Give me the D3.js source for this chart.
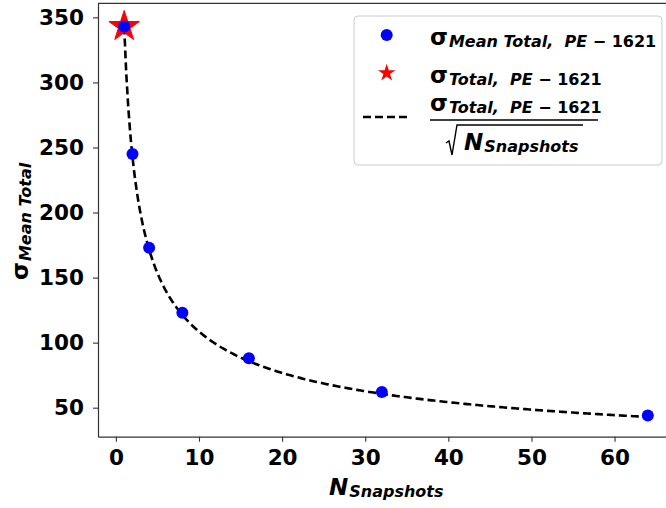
<!DOCTYPE html>
<html>
<head>
<meta charset="utf-8">
<style>
  body { margin: 0; background: #fff; }
  svg { display: block; font-family: "DejaVu Sans", sans-serif; font-weight: bold; }
  svg text { white-space: pre; }
</style>
</head>
<body>
<div id="chart"></div>
<script src="https://cdnjs.cloudflare.com/ajax/libs/d3/7.8.5/d3.min.js"></script>
<script>
'use strict';

// snapshots and measured sigma of the mean
var nSnapshots = [1, 2, 4, 8, 16, 32, 64];
var sigmaMean = [343, 245, 173, 123, 88, 62, 44];
var sigmaTotal = 343;
var xTicks = [0, 10, 20, 30, 40, 50, 60];
var yTicks = [50, 100, 150, 200, 250, 300, 350];

var W = 666, H = 508;
var plot = { left: 98, top: 3.3, right: 674, bottom: 436.7 };

var svg = d3.select('#chart').append('svg')
  .attr('width', W).attr('height', H);

var x = d3.scaleLinear().domain([-2.15, 67.15]).range([plot.left, plot.right]);
var y = d3.scaleLinear().domain([27.7, 360.8]).range([plot.bottom, plot.top]);

// axes
svg.append('g')
  .attr('transform', 'translate(0,' + plot.bottom + ')')
  .call(d3.axisBottom(x).tickValues(xTicks).tickSize(5).tickPadding(8).tickSizeOuter(0));
svg.append('g')
  .attr('transform', 'translate(' + plot.left + ',0)')
  .call(d3.axisLeft(y).tickValues(yTicks).tickSize(5).tickPadding(9).tickSizeOuter(0));

svg.selectAll('.tick text')
  .attr('font-family', 'DejaVu Sans').attr('font-weight', 'bold')
  .attr('font-size', 21.5).attr('fill', '#000');
svg.selectAll('.tick line').attr('stroke', '#333').attr('stroke-width', 1.1);
svg.selectAll('.domain').attr('stroke', '#333').attr('stroke-width', 1.2);

// top spine
svg.append('line')
  .attr('x1', plot.left).attr('x2', plot.right)
  .attr('y1', plot.top).attr('y2', plot.top)
  .attr('stroke', '#333').attr('stroke-width', 1.2);

// theoretical curve sigma_total / sqrt(N)
var curveN = d3.range(1, 64.001, 0.25);
var line = d3.line()
  .x(function(d) { return x(d); })
  .y(function(d) { return y(sigmaTotal / Math.sqrt(d)); });

svg.append('path')
  .datum(curveN)
  .attr('d', line)
  .attr('fill', 'none')
  .attr('stroke', '#000')
  .attr('stroke-width', 2.6)
  .attr('stroke-dasharray', '8,4');

// star for total sigma
var star = d3.symbol().type(d3.symbolStar);
svg.append('path')
  .attr('d', star.size(290)())
  .attr('transform', 'translate(' + x(1) + ',' + y(sigmaTotal) + ')')
  .attr('fill', 'red').attr('stroke', 'red').attr('stroke-width', 1);

svg.selectAll('circle.pt')
  .data(nSnapshots)
  .enter().append('circle')
  .attr('class', 'pt')
  .attr('cx', function(d) { return x(d); })
  .attr('cy', function(d, i) { return y(sigmaMean[i]); })
  .attr('r', 6)
  .attr('fill', 'blue');

// helper: big symbol with an italic subscript, optional upright tail
function mathLabel(g, base, sub, tail, baseSize, subSize, dy) {
  var t = g.append('text').attr('fill', '#000');
  t.append('tspan').attr('font-size', baseSize).text(base);
  t.append('tspan').attr('font-size', subSize).attr('font-style', 'italic')
    .attr('dx', 1).attr('dy', dy).text(sub);
  if (tail) t.append('tspan').attr('font-size', subSize).text(tail);
  return t;
}

// axis labels
var xl = svg.append('g').attr('transform', 'translate(329,495)');
mathLabel(xl, 'N', 'Snapshots', null, 23, 16, 2).select('tspan').attr('font-style', 'italic');

var yl = svg.append('g').attr('transform', 'translate(28,280) rotate(-90)');
mathLabel(yl, 'σ', 'Mean Total', null, 23, 16, 3);

// legend
var lg = svg.append('g');
lg.append('rect')
  .attr('x', 354).attr('y', 16).attr('width', 308).attr('height', 149)
  .attr('rx', 4)
  .attr('fill', '#fff').attr('fill-opacity', 0.8)
  .attr('stroke', '#ccc').attr('stroke-width', 1);

lg.append('circle').attr('cx', 386.7).attr('cy', 35).attr('r', 6).attr('fill', 'blue');
lg.append('path')
  .attr('d', star.size(95)())
  .attr('transform', 'translate(386.7,73)')
  .attr('fill', 'red');
lg.append('line')
  .attr('x1', 363).attr('x2', 410).attr('y1', 117).attr('y2', 117)
  .attr('stroke', '#000').attr('stroke-width', 2.6).attr('stroke-dasharray', '8,4');

mathLabel(lg.append('g').attr('transform', 'translate(430,45)'),
  'σ', 'Mean Total,  PE', ' − 1621', 23, 16, 2);
mathLabel(lg.append('g').attr('transform', 'translate(430,83)'),
  'σ', 'Total,  PE', ' − 1621', 23, 16, 2);
mathLabel(lg.append('g').attr('transform', 'translate(430,111)'),
  'σ', 'Total,  PE', ' − 1621', 23, 16, 2);
lg.append('line')
  .attr('x1', 430).attr('x2', 598).attr('y1', 120).attr('y2', 120)
  .attr('stroke', '#000').attr('stroke-width', 1.4);
lg.append('path')
  .attr('d', 'M446,143 L449,141 L452,155 L457,125 L583,125')
  .attr('fill', 'none').attr('stroke', '#000').attr('stroke-width', 1.4);
mathLabel(lg.append('g').attr('transform', 'translate(464,150)'),
  'N', 'Snapshots', null, 23, 16, 2).select('tspan').attr('font-style', 'italic');
</script>
</body>
</html>
